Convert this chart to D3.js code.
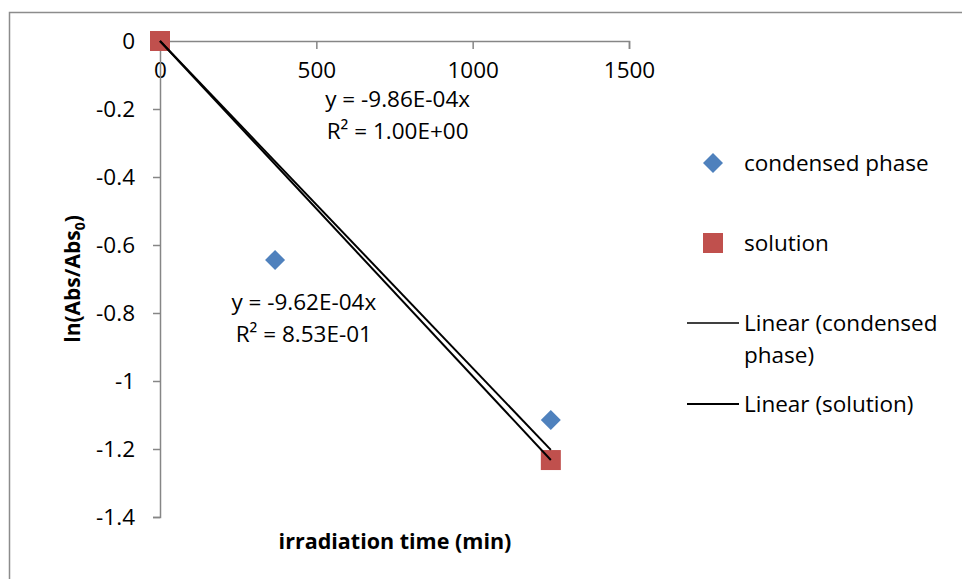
<!DOCTYPE html>
<html><head><meta charset="utf-8">
<script src="https://cdn.jsdelivr.net/npm/d3@7"></script>
<style>body{margin:0;background:#fff}svg{display:block;font-family:"Open Sans",sans-serif}</style>
</head><body><svg id="c" width="962" height="579"></svg>
<script>
const condensedX = [0, 368, 1250];
const condensedY = [0, -0.644, -1.115];
const solutionX = [0, 1250];
const solutionY = [0, -1.2325];
const slopes = {condensed: -9.62e-4, solution: -9.86e-4};
const xTicks = [0, 500, 1000, 1500];
const yTicks = [0, -0.2, -0.4, -0.6, -0.8, -1, -1.2, -1.4];
const eqLabels = [
  {lines: ["y = -9.86E-04x", "R\u00b2 = 1.00E+00"], x: 760, y: -0.193},
  {lines: ["y = -9.62E-04x", "R\u00b2 = 8.53E-01"], x: 460, y: -0.792}
];
const legendItems = ["condensed phase", "solution", "Linear (condensed|phase)", "Linear (solution)"];

const FS = 22.5;
const svg = d3.select("#c");
const x = d3.scaleLinear().domain([0, 1500]).range([160, 629]);
const y = d3.scaleLinear().domain([0, -1.4]).range([41, 517]);
const axisColor = "#868686";

// chart border
svg.append("path").attr("d", "M9.5,580 L9.5,12.5 L962,12.5").attr("fill", "none").attr("stroke", "#8c8c8c").attr("stroke-width", 1.5);

// x axis at y=0
const gx = svg.append("g").attr("transform", `translate(0,${y(0)})`)
  .call(d3.axisBottom(x).tickValues(xTicks).tickSize(8).tickPadding(13).tickFormat(d3.format("d")));
gx.select(".domain").attr("stroke", axisColor).attr("stroke-width", 1.5);
gx.selectAll(".tick line").attr("stroke", axisColor).attr("stroke-width", 1.5);
gx.selectAll("text").attr("font-size", FS).attr("fill", "#000").attr("font-family", "Open Sans");

const gy = svg.append("g").attr("transform", `translate(${x(0)},0)`)
  .call(d3.axisLeft(y).tickValues(yTicks).tickSize(7).tickPadding(18));
gy.select(".domain").attr("stroke", axisColor).attr("stroke-width", 1.5);
gy.selectAll(".tick line").attr("stroke", axisColor).attr("stroke-width", 1.5);
gy.selectAll("text").attr("font-size", FS).attr("fill", "#000").attr("font-family", "Open Sans")
  .text(d => d === 0 ? "0" : String(+d.toFixed(1)));

// titles
svg.append("text").attr("x", 395).attr("y", 549).attr("text-anchor", "middle")
  .attr("font-size", 21.5).attr("font-weight", "bold").text("irradiation time (min)");
const yt = svg.append("text").attr("transform", "translate(80,279) rotate(-90)").attr("text-anchor", "middle")
  .attr("font-size", 21).attr("font-weight", "bold");
yt.append("tspan").text("ln(Abs/Abs");
yt.append("tspan").attr("font-size", 14).attr("dy", 5).text("0");
yt.append("tspan").attr("dy", -5).text(")");

// trend lines + markers
const line = d3.line().x(d => x(d[0])).y(d => y(d[1]));
const xmaxC = d3.max(condensedX), xmaxS = d3.max(solutionX);
const diamond = d3.symbol().type(d3.symbolSquare).size(200);
svg.selectAll(".cd").data(condensedX.map((v, i) => [v, condensedY[i]])).join("path")
  .attr("d", diamond).attr("transform", d => `translate(${x(d[0])},${y(d[1])}) rotate(45)`)
  .attr("fill", "#4F81BD");
svg.selectAll(".so").data(solutionX.map((v, i) => [v, solutionY[i]])).join("rect")
  .attr("x", d => x(d[0]) - 10).attr("y", d => y(d[1]) - 10).attr("width", 20).attr("height", 20)
  .attr("fill", "#C0504D");
svg.append("path").datum([[0, 0], [xmaxS, slopes.solution * xmaxS]]).attr("d", line)
  .attr("stroke", "#000").attr("stroke-width", 2).attr("fill", "none");
svg.append("path").datum([[0, 0], [xmaxC, slopes.condensed * xmaxC]]).attr("d", line)
  .attr("stroke", "#000").attr("stroke-width", 2).attr("fill", "none");

// equation labels
eqLabels.forEach(e => {
  const t = svg.append("text").attr("text-anchor", "middle").attr("font-size", FS);
  e.lines.forEach((l, i) => t.append("tspan").attr("x", x(e.x)).attr("y", y(e.y) + i * 32).text(l));
});

// legend
const lg = svg.append("g");
lg.append("path").attr("d", d3.symbol().type(d3.symbolSquare).size(200)).attr("transform", "translate(713,163) rotate(45)").attr("fill", "#4F81BD");
lg.append("text").attr("x", 744).attr("y", 171).attr("font-size", FS).text(legendItems[0]);
lg.append("rect").attr("x", 703).attr("y", 233).attr("width", 20).attr("height", 20).attr("fill", "#C0504D");
lg.append("text").attr("x", 744).attr("y", 251).attr("font-size", FS).text(legendItems[1]);
lg.append("line").attr("x1", 687).attr("x2", 739).attr("y1", 323).attr("y2", 323).attr("stroke", "#000").attr("stroke-width", 1.5);
const l3 = lg.append("text").attr("font-size", FS);
legendItems[2].split("|").forEach((s, i) => l3.append("tspan").attr("x", 744).attr("y", 331 + i * 32).text(s));
lg.append("line").attr("x1", 687).attr("x2", 739).attr("y1", 404).attr("y2", 404).attr("stroke", "#000").attr("stroke-width", 2);
lg.append("text").attr("x", 744).attr("y", 412).attr("font-size", FS).text(legendItems[3]);
</script></body></html>
